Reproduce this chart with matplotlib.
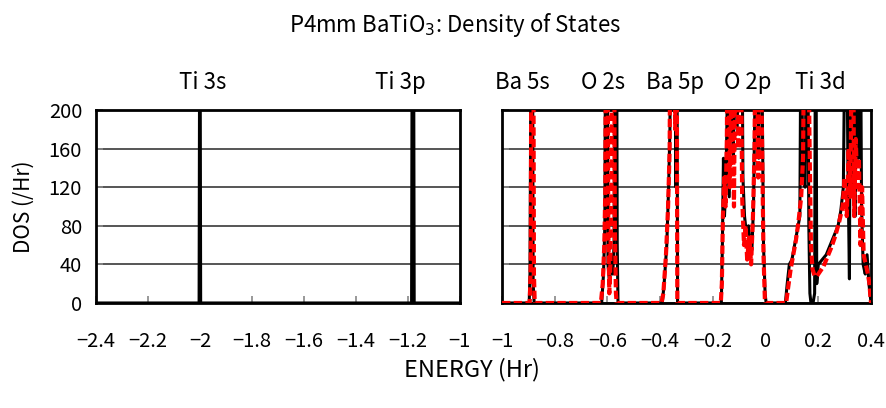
import matplotlib
matplotlib.use("Agg")
from matplotlib import pyplot as plt

plt.rcParams["font.family"] = ["Noto Sans CJK JP", "DejaVu Sans"]

# core levels (left panel), black only
core_energy = [-2.4, -2.003, -2.0, -1.997, -1.185, -1.182, -1.178, -1.175, -1.0]
core_dos = [0, 0, 400, 0, 0, 400, 400, 0, 0]

# valence region (right panel), black solid curve
val_energy_k = [
    -1.0, -0.897, -0.894, -0.892, -0.889, -0.885, -0.882, -0.878,
    -0.622, -0.615, -0.610, -0.606, -0.602, -0.598, -0.592, -0.586, -0.580, -0.575, -0.570, -0.566, -0.563, -0.560,
    -0.392, -0.385, -0.375, -0.368, -0.363, -0.358, -0.345, -0.340, -0.337, -0.334,
    -0.168, -0.164, -0.160, -0.156, -0.150, -0.145, -0.138, -0.130, -0.122, -0.115, -0.108, -0.100, -0.092,
    -0.086, -0.080, -0.072, -0.065, -0.058, -0.052, -0.046, -0.040, -0.034, -0.026, -0.020, -0.014, -0.008, -0.002, 0.002,
    0.075, 0.082, 0.090, 0.100, 0.110, 0.120, 0.130, 0.136, 0.140, 0.150, 0.158, 0.164, 0.168, 0.172,
    0.180, 0.186, 0.190, 0.194, 0.200, 0.215, 0.230, 0.245, 0.260, 0.275, 0.285, 0.295, 0.305, 0.312,
    0.318, 0.323, 0.328, 0.334, 0.340, 0.346, 0.352, 0.358, 0.364, 0.370, 0.378, 0.385, 0.392, 0.398, 0.400,
]
val_dos_k = [
    0, 0, 30, 150, 400, 400, 20, 0,
    0, 30, 80, 400, 400, 40, 20, 50, 30, 60, 400, 400, 60, 0,
    0, 20, 60, 120, 180, 400, 400, 120, 400, 0,
    0, 60, 150, 90, 130, 220, 110, 300, 150, 400, 180, 300, 400,
    130, 90, 70, 80, 60, 55, 100, 220, 400, 150, 400, 250, 60, 10, 0,
    0, 20, 40, 45, 60, 75, 90, 400, 130, 120, 400, 80, 10, 0,
    0, 10, 400, 20, 40, 45, 50, 60, 70, 80, 95, 120, 400, 150,
    25, 400, 120, 400, 90, 400, 150, 400, 100, 40, 30, 50, 20, 5, 0,
]

# valence region (right panel), red dashed curve
val_energy_r = [
    -1.0, -0.895, -0.891, -0.888, -0.882, -0.879, -0.876,
    -0.625, -0.618, -0.612, -0.608, -0.605, -0.601, -0.597, -0.593, -0.589, -0.585, -0.582, -0.576, -0.572, -0.568, -0.565,
    -0.395, -0.388, -0.378, -0.370, -0.364, -0.360, -0.348, -0.343, -0.338, -0.335,
    -0.170, -0.166, -0.162, -0.157, -0.152, -0.147, -0.142, -0.136, -0.128, -0.120, -0.112, -0.104, -0.097,
    -0.089, -0.082, -0.076, -0.070, -0.062, -0.055, -0.048, -0.042, -0.036, -0.028, -0.022, -0.015, -0.008, -0.003, 0.0,
    0.078, 0.085, 0.095, 0.105, 0.115, 0.125, 0.135, 0.142, 0.150, 0.160, 0.166, 0.172, 0.178, 0.186,
    0.195, 0.205, 0.220, 0.235, 0.250, 0.265, 0.280, 0.292, 0.300, 0.308, 0.315, 0.322, 0.330, 0.336,
    0.342, 0.348, 0.354, 0.360, 0.366, 0.372, 0.380, 0.388, 0.394, 0.398, 0.400,
]
val_dos_r = [
    0, 0, 40, 400, 400, 30, 0,
    0, 20, 60, 120, 400, 400, 80, 10, 40, 120, 400, 400, 80, 10, 0,
    0, 10, 50, 100, 160, 400, 400, 180, 400, 0,
    0, 20, 90, 130, 100, 170, 400, 120, 250, 100, 400, 160, 400,
    110, 60, 80, 45, 70, 40, 90, 160, 400, 130, 400, 200, 50, 5, 0,
    0, 15, 35, 50, 65, 85, 110, 150, 400, 400, 180, 60, 35, 28,
    28, 32, 38, 48, 58, 70, 85, 100, 130, 90, 160, 110, 400, 90,
    170, 120, 150, 60, 120, 50, 40, 30, 20, 5, 0,
]

left_labels = ["Ti 3s", "Ti 3p"]
left_label_x = [-1.988, -1.227]
right_labels = ["Ba 5s", "O 2s", "Ba 5p", "O 2p", "Ti 3d"]
right_label_x = [-0.924, -0.617, -0.344, -0.067, 0.206]

left_ticks = [-2.4, -2.2, -2.0, -1.8, -1.6, -1.4, -1.2, -1.0]
right_ticks = [-1.0, -0.8, -0.6, -0.4, -0.2, 0.0, 0.2, 0.4]
y_ticks = [0, 40, 80, 120, 160, 200]


def fmt(v):
    s = f"{v:g}"
    return s.replace("-", "\u2212")


fig = plt.figure(figsize=(8.87, 4.08), dpi=100)
ax1 = fig.add_axes([0.1082, 0.2574, 0.410, 0.473])
ax2 = fig.add_axes([0.566, 0.2574, 0.416, 0.473])

for ax, ticks in ((ax1, left_ticks), (ax2, right_ticks)):
    ax.set_ylim(0, 200)
    ax.set_xlim(ticks[0], ticks[-1])
    ax.set_xticks(ticks)
    ax.set_xticklabels([fmt(t) for t in ticks])
    ax.set_yticks(y_ticks)
    ax.grid(axis="y", color="#555555", linewidth=1.4)
    ax.set_axisbelow(True)
    ax.tick_params(direction="in", length=5, width=1.2, color="#888888", labelsize=14.5)
    ax.tick_params(axis="x", pad=20)
    ax.tick_params(axis="y", pad=10)
    for s in ax.spines.values():
        s.set_linewidth(2)
        s.set_color("black")

ax1.set_yticklabels([str(t) for t in y_ticks])
ax2.set_yticklabels([])

ax1.plot(core_energy, core_dos, color="black", linewidth=2.2, zorder=3)
ax2.plot(val_energy_k, val_dos_k, color="black", linewidth=2.2, zorder=3)
ax2.plot(val_energy_r, val_dos_r, color="red", linewidth=3.0, dashes=(2.0, 0.8), zorder=4)

for name, x in zip(left_labels, left_label_x):
    ax1.text(x, 1.14, name, transform=ax1.get_xaxis_transform(), ha="center", va="center", fontsize=16)
for name, x in zip(right_labels, right_label_x):
    ax2.text(x, 1.14, name, transform=ax2.get_xaxis_transform(), ha="center", va="center", fontsize=16)

fig.text(0.513, 0.939, "P4mm BaTiO$_3$: Density of States", ha="center", va="center", fontsize=16)
fig.text(0.532, 0.093, "ENERGY (Hr)", ha="center", va="center", fontsize=17)
fig.text(0.027, 0.493, "DOS (/Hr)", ha="center", va="center", rotation=90, fontsize=15)

fig.savefig("out.png", dpi=100)
